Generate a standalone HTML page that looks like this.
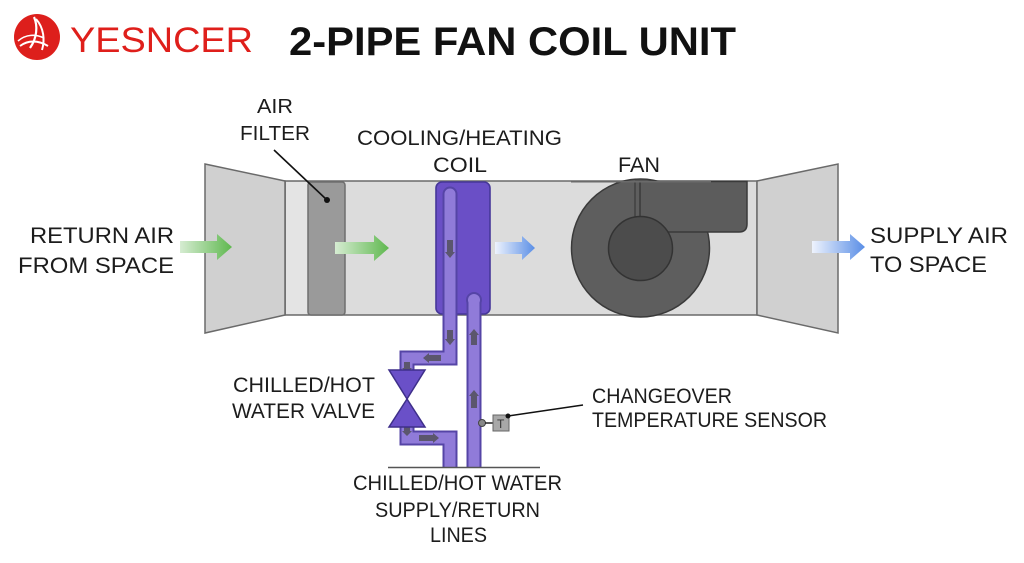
<!DOCTYPE html>
<html>
<head>
<meta charset="utf-8">
<style>
  html,body{margin:0;padding:0;background:#fff;}
  svg{display:block;}
  text{font-family:"Liberation Sans",Arial,sans-serif;fill:#1c1c1c;}
</style>
</head>
<body>
<svg width="1024" height="563" viewBox="0 0 1024 563" xmlns="http://www.w3.org/2000/svg">
  <defs>
    <linearGradient id="gG" x1="0" y1="0" x2="1" y2="0">
      <stop offset="0" stop-color="#d6ecd2"/>
      <stop offset="1" stop-color="#5fb84f"/>
    </linearGradient>
    <linearGradient id="gB" x1="0" y1="0" x2="1" y2="0">
      <stop offset="0" stop-color="#eef3fd"/>
      <stop offset="1" stop-color="#5a8ee6"/>
    </linearGradient>
  </defs>

  <rect width="1024" height="563" fill="#ffffff"/>

  <!-- Logo -->
  <circle cx="37" cy="37" r="23" fill="#dd1f1c"/>
  <path d="M34 17 C38 26 37 38 30 48" stroke="#fff" stroke-width="2.2" fill="none"/>
  <path d="M36 19 C44 28 45 40 42 50" stroke="#fff" stroke-width="2" fill="none"/>
  <path d="M20 46 C28 40 38 40 48 46" stroke="#fff" stroke-width="2" fill="none"/>
  <path d="M18 41 C26 34 36 34 44 38" stroke="#fff" stroke-width="1.6" fill="none"/>
  <text x="70" y="52" font-size="35" textLength="183" lengthAdjust="spacingAndGlyphs" style="fill:#df1f1b">YESNCER</text>

  <!-- Title -->
  <text x="289" y="55" font-size="40" font-weight="bold" textLength="447" lengthAdjust="spacingAndGlyphs" style="fill:#111">2-PIPE FAN COIL UNIT</text>

  <!-- Main box -->
  <rect x="285" y="181" width="472" height="134" fill="#dcdcdc" stroke="#6a6a6a" stroke-width="1.5"/>
  <rect x="286" y="182" width="22" height="132" fill="#e4e4e4"/>
  <line x1="285" y1="181" x2="285" y2="315" stroke="#6a6a6a" stroke-width="1.5"/>

  <!-- Left flared panel -->
  <polygon points="205,164 285,181 285,315 205,333" fill="#d0d0d0" stroke="#6a6a6a" stroke-width="1.5"/>
  <!-- Right flared panel -->
  <polygon points="757,181 838,164 838,333 757,315" fill="#d0d0d0" stroke="#6a6a6a" stroke-width="1.5"/>

  <!-- Filter -->
  <rect x="308" y="182" width="37" height="133" rx="3" fill="#9a9a9a" stroke="#6e6e6e" stroke-width="1.5"/>
  <line x1="274" y1="150" x2="327" y2="200" stroke="#111" stroke-width="1.6"/>
  <circle cx="327" cy="200" r="3" fill="#111"/>

  <!-- Fan -->
  <circle cx="640.5" cy="248" r="69" fill="#5e5e5e" stroke="#3a3a3a" stroke-width="1.5"/>
  <path d="M635 181.5 H747 V224 Q747 232 739 232 H640 V181.5 Z" fill="#5c5c5c" stroke="#3a3a3a" stroke-width="1.5"/>
  <line x1="635" y1="181.5" x2="635" y2="230" stroke="#3a3a3a" stroke-width="1.2"/>
  <circle cx="640.5" cy="248.5" r="32" fill="#4c4c4c" stroke="#333" stroke-width="1.5"/>
  <rect x="571" y="181" width="140" height="1.5" fill="#6a6a6a"/>

  <!-- Coil -->
  <rect x="436" y="182" width="54" height="132" rx="6" fill="#6a4fc6" stroke="#46379a" stroke-width="1.6"/>

  <!-- Pipes outer (border) -->
  <g fill="none" stroke="#5544a6" stroke-width="15">
    <path d="M450 194 V358 H407 V372" stroke-linejoin="miter"/>
    <path d="M407 424 V438 H450 V468" stroke-linejoin="miter"/>
    <path d="M474 300 V468"/>
  </g>
  <circle cx="450" cy="194" r="7.5" fill="#5544a6"/>
  <circle cx="474" cy="300" r="8" fill="#5544a6"/>
  <g fill="none" stroke="#907bd9" stroke-width="11">
    <path d="M450 194 V358 H407 V372" stroke-linejoin="miter"/>
    <path d="M407 424 V438 H450 V468" stroke-linejoin="miter"/>
    <path d="M474 300 V468"/>
  </g>
  <circle cx="450" cy="194" r="5.5" fill="#907bd9"/>
  <circle cx="474" cy="300" r="6" fill="#907bd9"/>

  <!-- Flow arrows inside pipes -->
  <g fill="#4a4a4a" opacity="0.75">
    <path d="M447 240 h6 v12 h2 l-5 6 l-5 -6 h2z"/>
    <path d="M447 330 h6 v9 h2 l-5 6 l-5 -6 h2z"/>
    <path d="M441 355 v6 h-12 v2 l-6 -5 l6 -5 v2z"/>
    <path d="M404 362 h6 v6 h2 l-5 5 l-5 -5 h2z"/>
    <path d="M404 426 h6 v5 h2 l-5 5 l-5 -5 h2z"/>
    <path d="M419 435 v6 h14 v2 l6 -5 l-6 -5 v2z"/>
    <path d="M471 345 h6 v-10 h2 l-5 -6 l-5 6 h2z"/>
    <path d="M471 408 h6 v-12 h2 l-5 -6 l-5 6 h2z"/>
    <path d="M447 330 h6 v9 h2 l-5 6 l-5 -6 h2z"/>
  </g>

  <!-- Valve -->
  <polygon points="389,370 425,370 407,399" fill="#6a50c8" stroke="#3e2f8a" stroke-width="1.5"/>
  <polygon points="407,399 389,427 425,427" fill="#6a50c8" stroke="#3e2f8a" stroke-width="1.5"/>

  <!-- Bottom line -->
  <line x1="388" y1="467.5" x2="540" y2="467.5" stroke="#555" stroke-width="1.5"/>

  <!-- Sensor -->
  <circle cx="482" cy="423" r="3.5" fill="#888" stroke="#444" stroke-width="1"/>
  <line x1="485" y1="423" x2="493" y2="423" stroke="#222" stroke-width="1.5"/>
  <rect x="493" y="415" width="16" height="16" fill="#a8a8a8" stroke="#666" stroke-width="1"/>
  <text x="497" y="428" font-size="12" style="fill:#333">T</text>
  <line x1="508" y1="416" x2="583" y2="405" stroke="#111" stroke-width="1.5"/>
  <circle cx="508" cy="416" r="2.5" fill="#111"/>

  <!-- Air arrows -->
  <path d="M180 241 H217 V234 L232 247 L217 260 V253 H180 Z" fill="url(#gG)"/>
  <path d="M335 242 H374 V235 L389 248 L374 261 V254 H335 Z" fill="url(#gG)"/>
  <path d="M495 242 H522 V236 L535 248 L522 260 V254 H495 Z" fill="url(#gB)"/>
  <path d="M812 241 H850 V234 L865 247 L850 260 V253 H812 Z" fill="url(#gB)"/>

  <!-- Labels -->
  <text x="30" y="243" font-size="22" textLength="144" lengthAdjust="spacingAndGlyphs">RETURN AIR</text>
  <text x="18" y="273" font-size="22" textLength="156" lengthAdjust="spacingAndGlyphs">FROM SPACE</text>

  <text x="257" y="113" font-size="20" textLength="36" lengthAdjust="spacingAndGlyphs">AIR</text>
  <text x="240" y="140" font-size="20" textLength="70" lengthAdjust="spacingAndGlyphs">FILTER</text>

  <text x="357" y="145" font-size="21" textLength="205" lengthAdjust="spacingAndGlyphs">COOLING/HEATING</text>
  <text x="433" y="172" font-size="21" textLength="54" lengthAdjust="spacingAndGlyphs">COIL</text>

  <text x="618" y="172" font-size="21" textLength="42" lengthAdjust="spacingAndGlyphs">FAN</text>

  <text x="870" y="243" font-size="22" textLength="138" lengthAdjust="spacingAndGlyphs">SUPPLY AIR</text>
  <text x="870" y="272" font-size="22" textLength="117" lengthAdjust="spacingAndGlyphs">TO SPACE</text>

  <text x="233" y="392" font-size="21" textLength="142" lengthAdjust="spacingAndGlyphs">CHILLED/HOT</text>
  <text x="232" y="418" font-size="21" textLength="143" lengthAdjust="spacingAndGlyphs">WATER VALVE</text>

  <text x="592" y="403" font-size="21" textLength="140" lengthAdjust="spacingAndGlyphs">CHANGEOVER</text>
  <text x="592" y="427" font-size="21" textLength="235" lengthAdjust="spacingAndGlyphs">TEMPERATURE SENSOR</text>

  <text x="353" y="490" font-size="21" textLength="209" lengthAdjust="spacingAndGlyphs">CHILLED/HOT WATER</text>
  <text x="375" y="517" font-size="21" textLength="165" lengthAdjust="spacingAndGlyphs">SUPPLY/RETURN</text>
  <text x="430" y="542" font-size="21" textLength="57" lengthAdjust="spacingAndGlyphs">LINES</text>
</svg>
</body>
</html>
